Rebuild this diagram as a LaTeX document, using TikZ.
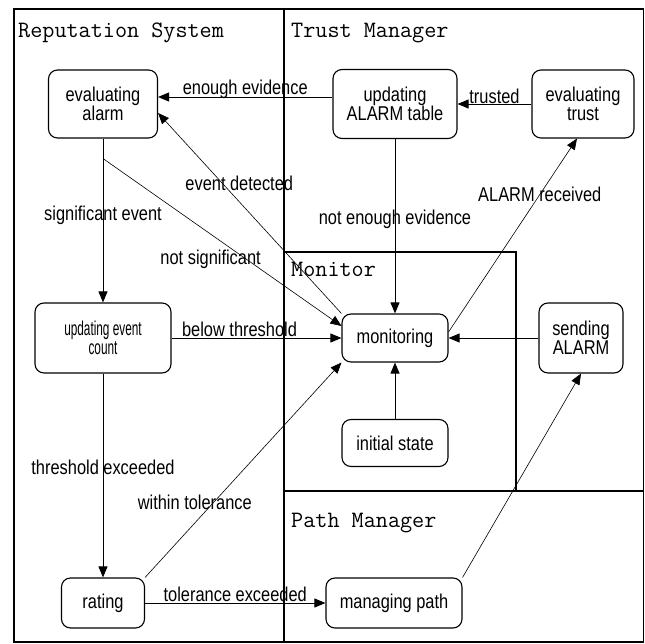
\documentclass[tikz,border=0pt]{standalone}
\usepackage{fontspec}
\setmainfont{Liberation Sans}
\newfontfamily\statefont[FakeStretch=0.82]{Liberation Sans}
\usetikzlibrary{positioning,arrows.meta}
\newcommand{\squeezed}[1]{\scalebox{0.72}[1]{#1}}
\begin{document}
\begin{tikzpicture}[x=1pt,y=1pt,
  state/.style={draw,line width=1.1pt,rounded corners=9pt,align=center,inner sep=2pt,
    font=\statefont\fontsize{20}{18.5}\selectfont},
  region/.style={anchor=base west,inner sep=0pt,font=\ttfamily\fontsize{23.5}{28}\selectfont},
  lbl/.style={inner sep=1pt,font=\statefont\fontsize{20}{18.5}\selectfont},
  arr/.style={-{Triangle[length=11pt,width=9pt]},line width=0.9pt},
  diag/.style={arr,line width=0.6pt}]
\useasboundingbox (0,0) rectangle (645,643);
\draw[line width=1.1pt] (14,1) rectangle (643.5,634);
\draw[line width=1.1pt] (284,634) -- (284,1);
\draw[line width=1.1pt] (284,391) -- (516,391) -- (516,152);
\draw[line width=1.1pt] (284,152) -- (643.5,152);

\node (reptitle) [region] at (18,605) {Reputation System};
\node (trusttitle) [region] at (291,605) {Trust Manager};
\node (montitle) [region] at (291,366) {Monitor};
\node (pathtitle) [region] at (291,116) {Path Manager};

\node (evalalarm) [state,minimum width=109pt,minimum height=68pt] at (103,539) {evaluating\\alarm};
\node (updcount) [state,minimum width=136pt,minimum height=70pt,below of=evalalarm,node distance=234pt]
  {\squeezed{updating event}\\\squeezed{count}};
\node (rating) [state,minimum width=83pt,minimum height=50pt,below of=updcount,node distance=265pt] {rating};
\node (monitoring) [state,minimum width=106pt,minimum height=48pt,right of=updcount,node distance=292pt] {monitoring};
\node (updalarm) [state,minimum width=124pt,minimum height=69pt,above of=monitoring,node distance=234pt] {updating\\ALARM table};
\node (evaltrust) [state,minimum width=102pt,minimum height=68pt,right of=updalarm,node distance=188pt] {evaluating\\trust};
\node (sendalarm) [state,minimum width=84pt,minimum height=70pt,right of=monitoring,node distance=186pt] {sending\\ALARM};
\node (initstate) [state,minimum width=106pt,minimum height=47pt,below of=monitoring,node distance=105pt] {initial state};
\node (mgmtpath) [state,minimum width=136pt,minimum height=50pt,right of=rating,node distance=291pt] {managing path};
\coordinate (branch) at ([yshift=-20pt]evalalarm.south);

\draw[arr] ([yshift=7pt]updalarm.west) -- ([yshift=7pt]updalarm.west -| evalalarm.east) node[lbl,midway,anchor=base,yshift=2pt] {enough evidence};
\draw[arr] (evaltrust) -- (updalarm) node[lbl,midway,above=-1pt] {trusted};
\draw[arr] (updalarm) -- (monitoring) node[lbl,pos=0.46] {not enough evidence};
\draw[arr] (evalalarm) -- (updcount) node[lbl,pos=0.47] {significant event};
\draw[arr] (updcount) -- (monitoring) node[lbl,pos=0.4,above=0pt] {below threshold};
\draw[arr] (sendalarm) -- (monitoring);
\draw[arr] (initstate) -- (monitoring);
\draw[arr] (updcount) -- (rating) node[lbl,pos=0.46] {threshold exceeded};
\draw[arr] (rating) -- (mgmtpath) node[lbl,midway,above=0pt] {tolerance exceeded};
\draw[diag] (monitoring.north west) -- ([yshift=-9pt]evalalarm.east) node[lbl,pos=0.65,xshift=17pt] {event detected};
\draw[diag] (branch) -- ([yshift=12pt]monitoring.west) node[lbl,pos=0.6,left=-16pt] {not significant};
\draw[diag] ([yshift=6pt]monitoring.east) -- ([xshift=-6pt]evaltrust.south) node[lbl,pos=0.71] {ALARM received};
\draw[diag] (rating.north east) -- (monitoring.south west) node[lbl,pos=0.35,xshift=-19pt] {within tolerance};
\draw[diag] (mgmtpath.north east) -- (sendalarm.south);
\end{tikzpicture}
\end{document}
